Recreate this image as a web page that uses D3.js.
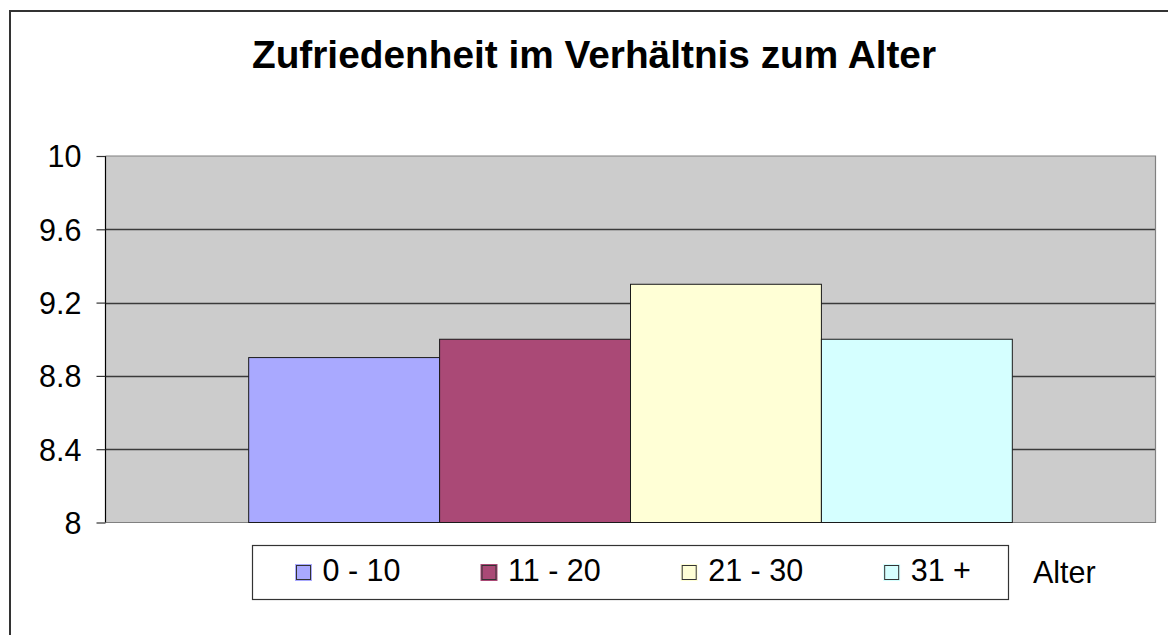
<!DOCTYPE html>
<html>
<head>
<meta charset="utf-8">
<script src="https://cdn.jsdelivr.net/npm/d3@7"></script>
<style>
  html, body { margin: 0; padding: 0; background: #fff; }
  svg { display: block; font-family: "Liberation Sans", Arial, sans-serif; }
</style>
</head>
<body>
<svg id="chart" width="1168" height="635"></svg>
<script>
// ---- data ----
const title = "Zufriedenheit im Verhältnis zum Alter";
const categoryLabel = "Alter";
const seriesNames = ["0 - 10", "11 - 20", "21 - 30", "31 +"];
const seriesValues = [8.9, 9.0, 9.3, 9.0];
const seriesColors = ["#A9A9FF", "#AA4976", "#FFFFD6", "#D5FFFF"];
const yTicks = [8, 8.4, 8.8, 9.2, 9.6, 10];
const yTickLabels = ["8", "8.4", "8.8", "9.2", "9.6", "10"];
const yDomain = [8, 10];

// ---- layout ----
const W = 1168, H = 635;
const plot = { left: 105.5, right: 1155.5, top: 156, bottom: 522.5 };
const fs = 30.5;

const svg = d3.select("#chart");

// outer frame (extends past the picture at right/bottom)
svg.append("rect")
  .attr("x", 10).attr("y", 11)
  .attr("width", W + 20).attr("height", H + 20)
  .attr("fill", "#fff").attr("stroke", "#333").attr("stroke-width", 2);

// title
svg.append("text")
  .attr("x", 594).attr("y", 68)
  .attr("text-anchor", "middle")
  .attr("font-size", 38.8).attr("font-weight", "bold")
  .attr("fill", "#000")
  .text(title);

// scales
const y = d3.scaleLinear().domain(yDomain).range([plot.bottom, plot.top]);
const x = d3.scaleBand().domain(seriesNames)
  .range([plot.left, plot.right])
  .paddingInner(0).paddingOuter(0.75);
const color = d3.scaleOrdinal().domain(seriesNames).range(seriesColors);

// plot area background
svg.append("rect")
  .attr("x", plot.left).attr("y", plot.top)
  .attr("width", plot.right - plot.left).attr("height", plot.bottom - plot.top)
  .attr("fill", "#CCCCCC");

// gridlines
svg.append("g").selectAll("line")
  .data(yTicks.filter(d => d > yDomain[0] && d < yDomain[1]))
  .join("line")
  .attr("x1", plot.left).attr("x2", plot.right)
  .attr("y1", d => Math.round(y(d)) + 0.5).attr("y2", d => Math.round(y(d)) + 0.5)
  .attr("stroke", "#3a3a3a").attr("stroke-width", 1.4);

// plot border top / right / bottom (gray)
svg.append("path")
  .attr("d", `M${plot.left},${plot.top}H${plot.right}V${plot.bottom}H${plot.left}`)
  .attr("fill", "none").attr("stroke", "#808080").attr("stroke-width", 1.2);

// bars
svg.append("g").selectAll("rect")
  .data(seriesNames.map((n, i) => ({ name: n, value: seriesValues[i] })))
  .join("rect")
  .attr("x", d => x(d.name))
  .attr("width", x.bandwidth())
  .attr("y", d => y(d.value))
  .attr("height", d => y(yDomain[0]) - y(d.value))
  .attr("fill", d => color(d.name))
  .attr("stroke", "#1a1a1a").attr("stroke-width", 1);

// y axis
const yAxis = d3.axisLeft(y)
  .tickValues(yTicks)
  .tickFormat((d, i) => yTickLabels[i])
  .tickSize(9).tickPadding(15);
const gy = svg.append("g")
  .attr("transform", `translate(${plot.left},0)`)
  .call(yAxis);
gy.select(".domain").attr("stroke", "#000").attr("stroke-width", 1.2)
  .attr("d", `M0,${plot.top}V${plot.bottom}`);
gy.selectAll(".tick line").attr("stroke", "#333").attr("stroke-width", 1.2);
gy.selectAll(".tick text")
  .attr("font-size", fs).attr("fill", "#000")
  .attr("font-family", "'Liberation Sans', Arial, sans-serif")
  .attr("dy", "0.36em");

// legend
const legend = svg.append("g");
legend.append("rect")
  .attr("x", 252.5).attr("y", 545.5).attr("width", 756).attr("height", 54)
  .attr("fill", "#fff").attr("stroke", "#333").attr("stroke-width", 1.2);

let cx = 295;
seriesNames.forEach((name, i) => {
  const g = legend.append("g").attr("transform", `translate(${cx},564)`);
  g.append("rect").attr("x", 0).attr("y", 0).attr("width", 17).attr("height", 17)
    .attr("fill", color(name));
  g.append("rect").attr("x", 1.5).attr("y", 1.5).attr("width", 14).attr("height", 14)
    .attr("fill", color(name)).attr("stroke", "#333").attr("stroke-width", 1);
  const t = g.append("text").attr("x", 27.5).attr("y", 17)
    .attr("font-size", fs).attr("fill", "#000").text(name);
  const w = t.node().getComputedTextLength();
  cx += 27.5 + w + 80;
});

// category label
svg.append("text")
  .attr("x", 1033).attr("y", 582.5)
  .attr("font-size", fs).attr("fill", "#000")
  .text(categoryLabel);
</script>
</body>
</html>
